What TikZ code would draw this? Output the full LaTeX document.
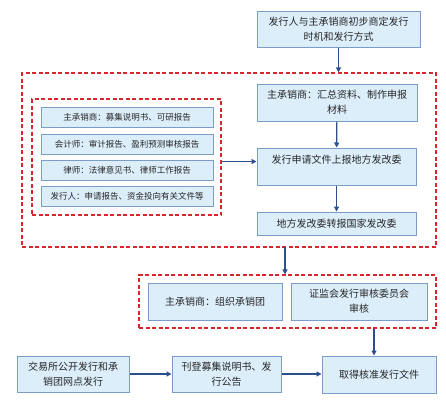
\documentclass[tikz,border=0pt]{standalone}
\usepackage{fontspec}
\newfontfamily\cjk{Noto Sans CJK SC}
\usetikzlibrary{arrows.meta, positioning, calc}

\definecolor{boxfill}{HTML}{DDEEFB}
\definecolor{boxline}{HTML}{7C9CC8}
\definecolor{arrowblue}{HTML}{2B4F8C}
\definecolor{framered}{HTML}{D7262C}

\begin{document}
\begin{tikzpicture}[x=1pt, y=-1pt,
    stepbox/.style={draw=boxline, fill=boxfill, line width=1pt,
      inner sep=2pt, align=center, text=black!85,
      font=\cjk\fontsize{10}{15}\selectfont},
    docbox/.style={stepbox, minimum width=172pt, minimum height=20pt,
      font=\cjk\fontsize{8.5}{10}\selectfont},
    frame/.style={draw=framered, line width=1.2pt,
      dash pattern=on 4pt off 2.5pt, inner sep=0pt},
    arr/.style={-{Triangle[length=5pt, width=5pt]}, draw=arrowblue,
      line width=1.2pt}]
  \useasboundingbox (0,0) rectangle (446,405);

  % frames
  \node[frame, minimum width=414pt, minimum height=174pt] (outer) at (229,160) {};
  \node[frame, minimum width=189pt, minimum height=116pt] (inner) at (126.5,157) {};
  \node[frame, minimum width=297pt, minimum height=53pt] (group) at (287.5,301.5) {};

  % right column
  \node[stepbox, minimum width=163pt, minimum height=36pt] (start) at (338.5,29)
    {发行人与主承销商初步商定发行\\时机和发行方式};
  \node[stepbox, minimum width=160pt, minimum height=37pt] (collect) at (337,102.5)
    {主承销商：汇总资料、制作申报\\材料};
  \node[stepbox, minimum width=159pt, minimum height=37pt] (local) at (336.5,166.5)
    {发行申请文件上报地方发改委\\\mbox{}};
  \node[stepbox, minimum width=159pt, minimum height=23pt] (national) at (336.5,223.5)
    {地方发改委转报国家发改委};

  % documents
  \node[docbox] (doc1) at (127,117) {主承销商：募集说明书、可研报告};
  \node[docbox] (doc2) at (127,144.5) {会计师：审计报告、盈利预测审核报告};
  \node[docbox] (doc3) at (127,170.5) {律师：法律意见书、律师工作报告};
  \node[docbox] (doc4) at (127,196) {发行人：申请报告、资金投向有关文件等};

  % review
  \node[stepbox, minimum width=134pt, minimum height=37pt] (syndicate) at (215,301.5)
    {主承销商：组织承销团};
  \node[stepbox, minimum width=136pt, minimum height=37pt] (review) at (359,301.5)
    {证监会发行审核委员会\\审核};

  % bottom row
  \node[stepbox, minimum width=112pt, minimum height=36pt] (sell) at (73,374)
    {交易所公开发行和承\\销团网点发行};
  \node[stepbox, minimum width=109pt, minimum height=36pt] (publish) at (226.5,374)
    {刊登募集说明书、发\\行公告};
  \node[stepbox, minimum width=114pt, minimum height=37pt] (approve) at (379,374.5)
    {取得核准发行文件};

  \coordinate (localin) at ([yshift=5pt]local.west);
  \coordinate (down) at (285,247);
  \coordinate (approvein) at ([xshift=-5pt]approve.north);

  \draw[arr] (start) -- (start |- outer.north);
  \draw[arr] (collect) -- (local);
  \draw[arr] (local) -- (national);
  \draw[arr] (inner.east |- localin) -- (localin);
  \draw[arr] (down) -- (down |- group.north);
  \draw[arr] (group.south -| approvein) -- (approvein);
  \draw[arr] (sell.east) -- (publish.west);
  \draw[arr] (publish.east) -- (publish.east -| approve.west);
\end{tikzpicture}
\end{document}
